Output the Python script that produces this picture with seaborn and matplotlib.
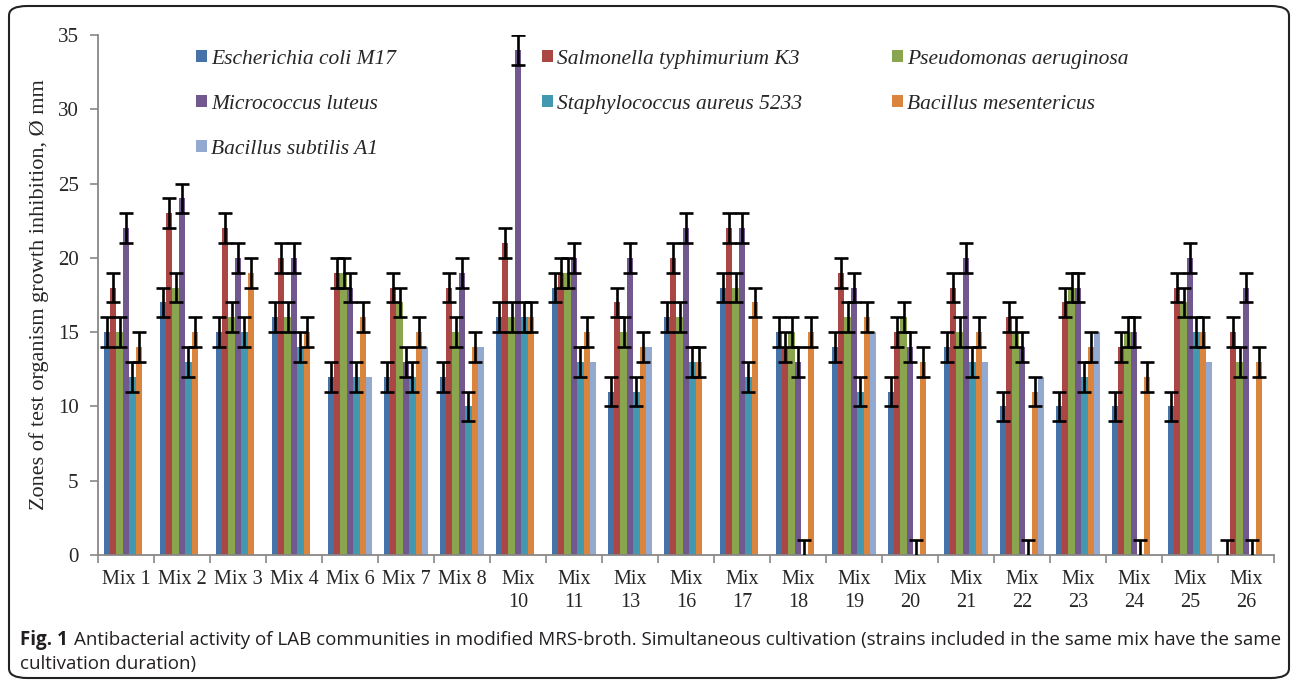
import matplotlib
matplotlib.use("Agg")
import matplotlib.pyplot as plt
from matplotlib.patches import Patch, FancyBboxPatch
import numpy as np
import pandas as pd
import seaborn as sns

mixes = ["Mix 1", "Mix 2", "Mix 3", "Mix 4", "Mix 6", "Mix 7", "Mix 8", "Mix\n10", "Mix\n11",
         "Mix\n13", "Mix\n16", "Mix\n17", "Mix\n18", "Mix\n19", "Mix\n20", "Mix\n21", "Mix\n22",
         "Mix\n23", "Mix\n24", "Mix\n25", "Mix\n26"]

strains = ["Escherichia coli M17", "Salmonella typhimurium K3", "Pseudomonas aeruginosa",
           "Micrococcus luteus", "Staphylococcus aureus 5233", "Bacillus mesentericus",
           "Bacillus subtilis A1"]

e_coli      = [15, 17, 15, 16, 12, 12, 12, 16, 18, 11, 16, 18, 15, 14, 11, 14, 10, 10, 10, 10, 0]
salmonella  = [18, 23, 22, 20, 19, 18, 18, 21, 19, 17, 20, 22, 14, 19, 15, 18, 16, 17, 14, 18, 15]
pseudomonas = [15, 18, 16, 16, 19, 17, 15, 16, 19, 15, 16, 18, 15, 16, 16, 15, 15, 18, 15, 17, 13]
micrococcus = [22, 24, 20, 20, 18, 13, 19, 34, 20, 20, 22, 22, 13, 18, 14, 20, 14, 18, 15, 20, 18]
staph       = [12, 13, 15, 14, 12, 12, 10, 16, 13, 11, 13, 12, 0, 11, 0, 13, 0, 12, 0, 15, 0]
b_mes       = [14, 15, 19, 15, 16, 15, 14, 16, 15, 14, 13, 17, 15, 16, 13, 15, 11, 14, 12, 15, 13]
b_subtilis  = [0, 0, 0, 0, 12, 14, 14, 0, 13, 14, 0, 0, 0, 15, 0, 13, 12, 15, 0, 13, 0]

series = [e_coli, salmonella, pseudomonas, micrococcus, staph, b_mes, b_subtilis]
err = 1.0
has_err = [True, True, True, True, True, True, False]

colors = ["#4572A7", "#AA4643", "#89A54E", "#71588F", "#4198AF", "#DB843D", "#93A9CF"]

rows = []
for s, vals in zip(strains, series):
    for m, v in zip(mixes, vals):
        rows.append({"mix": m, "strain": s, "value": v})
df = pd.DataFrame(rows)

sns.set_style("white")
plt.rcParams["font.family"] = ["Liberation Serif", "DejaVu Serif"]

fig = plt.figure(figsize=(12.92, 6.83), dpi=100)
ax = fig.add_axes([98 / 1292, (683 - 555) / 683, (1274 - 98) / 1292, (555 - 35) / 683])

sns.barplot(data=df, x="mix", y="value", hue="strain", order=mixes, hue_order=strains,
            palette=colors, saturation=1, width=0.8, gap=0, errorbar=None, legend=False,
            linewidth=0, edgecolor="none", ax=ax)

bar_containers = list(ax.containers)
for i, cont in enumerate(bar_containers):
    if not has_err[i]:
        continue
    xs = [p.get_x() + p.get_width() / 2 for p in cont]
    ax.errorbar(xs, series[i], yerr=err, fmt="none", ecolor="black", elinewidth=1.9,
                capsize=5, capthick=1.9, zorder=5)

ax.set_xlim(-0.5, len(mixes) - 0.5)
ax.set_ylim(0, 35)
ax.set_yticks(np.arange(0, 36, 5))
ax.set_xlabel("")
ax.set_ylabel("Zones of test organism growth inhibition, Ø mm", fontsize=16, labelpad=6)
ax.tick_params(axis="y", labelsize=15, length=6, width=1.2, color="#888888", direction="out", left=True, pad=8)
ax.set_xticks(np.arange(len(mixes)))
ax.set_xticklabels(mixes, fontsize=14.5, linespacing=1.3)
ax.tick_params(axis="x", which="major", length=0, pad=11)
ax.set_xticks(np.arange(-0.5, len(mixes), 1), minor=True)
ax.tick_params(axis="x", which="minor", length=6, width=1.2, color="#888888", direction="out", bottom=True)
for sp in ["top", "right"]:
    ax.spines[sp].set_visible(False)
for sp in ["left", "bottom"]:
    ax.spines[sp].set_color("#888888")
    ax.spines[sp].set_linewidth(1.3)

# legend in three fixed-width columns
cols = [[0, 3, 6], [1, 4], [2, 5]]
col_x = [196 / 1292, 542 / 1292, 892 / 1292]
for cx, idxs in zip(col_x, cols):
    handles = [Patch(facecolor=colors[j], edgecolor="none", label=strains[j]) for j in idxs]
    fig.legend(handles=handles, loc="upper left", bbox_to_anchor=(cx, 1 - 50 / 683),
               frameon=False, prop=dict(family="Liberation Serif", style="italic", size=15.5),
               handlelength=0.5, handleheight=0.5, handletextpad=0.2,
               labelspacing=1.2, borderpad=0, borderaxespad=0)

cap_font = ["Open Sans", "DejaVu Sans"]
cap_size = 13.5
t1 = fig.text(20 / 1292, 1 - 640 / 683, "Fig. 1", fontsize=cap_size, fontweight="bold",
              family=cap_font, color="#231F20", va="center")
fig.canvas.draw()
bb = t1.get_window_extent()
fig.text((bb.x1 + 6) / 1292, 1 - 640 / 683,
         "Antibacterial activity of LAB communities in modified MRS-broth. Simultaneous cultivation (strains included in the same mix have the same",
         fontsize=cap_size, family=cap_font, color="#231F20", va="center")
fig.text(20 / 1292, 1 - 664 / 683, "cultivation duration)", fontsize=cap_size,
         family=cap_font, color="#231F20", va="center")

border = FancyBboxPatch((9 / 1292, 5 / 683), (1289 - 9) / 1292, (677 - 5) / 683,
                        boxstyle="round,pad=0,rounding_size=0.014", transform=fig.transFigure,
                        facecolor="none", edgecolor="#222222", linewidth=1.5, clip_on=False)
fig.patches.append(border)

fig.savefig("out.png", dpi=100)
